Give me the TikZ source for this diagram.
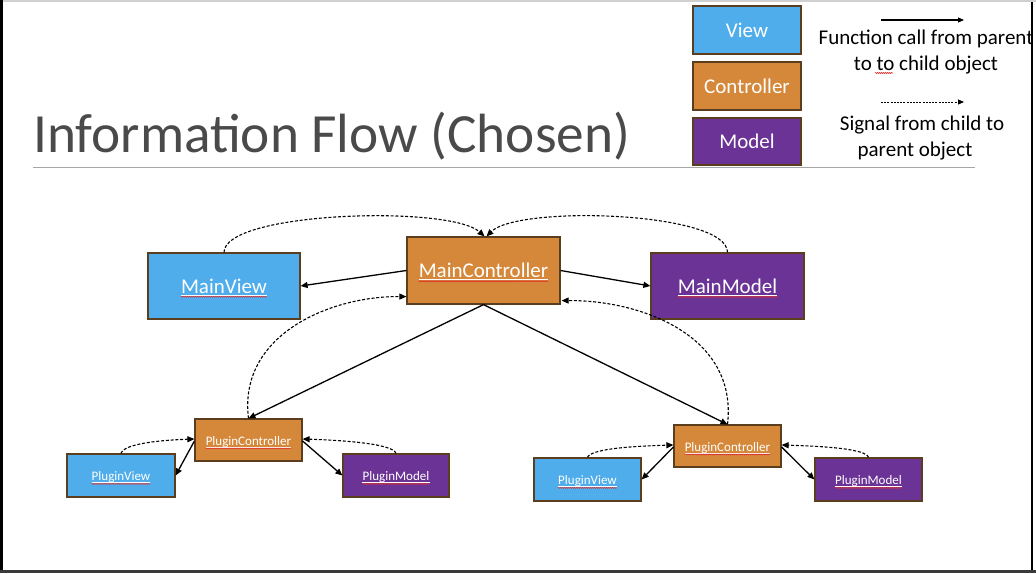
\documentclass[tikz,border=0pt]{standalone}
\usepackage{fontspec}
\setmainfont{Carlito}
\usetikzlibrary{arrows.meta,decorations.pathmorphing}
\definecolor{cview}{HTML}{4EADEA}
\definecolor{cctrl}{HTML}{D6883A}
\definecolor{cmodel}{HTML}{6A3395}
\definecolor{cedge}{HTML}{5A3E1E}
\definecolor{ctitle}{HTML}{4A4A4A}
\definecolor{crule}{HTML}{A6A6A6}
\definecolor{cwave}{HTML}{E03030}
\definecolor{ctop}{HTML}{D0D0D0}
\definecolor{cbot}{HTML}{3A3A3A}
\begin{document}
\begin{tikzpicture}[x=1pt,y=-1pt,
  box/.style={draw=cedge,line width=1.2pt,inner sep=0pt},
  vbox/.style={box,fill=cview},
  cbox/.style={box,fill=cctrl},
  mbox/.style={box,fill=cmodel},
  lbl/.style={anchor=base,inner sep=0pt,text=white},
  bigtxt/.style={font=\fontsize{21}{25}\selectfont},
  smalltxt/.style={font=\fontsize{13}{15}\selectfont},
  legtxt/.style={font=\fontsize{21}{25}\selectfont,anchor=base,inner sep=0pt},
  uline/.style={draw=white,line width=0.6pt},
  wave/.style={draw=cwave,line width=0.55pt,decorate,decoration={snake,amplitude=0.5pt,segment length=2pt}},
  fn/.style={draw=black,line width=1.3pt,-{Triangle[length=7pt,width=6pt]}},
  sig/.style={draw=black,line width=1.1pt,dash pattern=on 3pt off 1.8pt,-{Triangle[length=7pt,width=6pt]}},
  legfn/.style={draw=black,line width=1.1pt,-{Triangle[length=6pt,width=5pt]}},
  legsig/.style={draw=black,line width=1pt,dash pattern=on 2pt off 1.2pt,-{Triangle[length=6pt,width=5pt]}}
]
\useasboundingbox (0,0) rectangle (1036,573);
\fill[white] (0,0) rectangle (1036,573);
\begin{scope}
\clip (3,2) rectangle (1031,570);
% title
\node[anchor=base west,inner sep=0pt,text=ctitle] (title) at (33,152)
  {\resizebox{597pt}{!}{\fontsize{58}{64}\selectfont Information Flow (Chosen)}};
\draw[crule,line width=1pt] (33,167) -- (975,167);
% legend
\node[vbox,minimum width=108pt,minimum height=48pt] (lv) at (747,30) {};
\node[cbox,minimum width=108pt,minimum height=48pt] (lc) at (747,86) {};
\node[mbox,minimum width=108pt,minimum height=47pt] (lm) at (747,141.5) {};
\node[lbl,bigtxt] (lvt) at ([yshift=-7pt]lv.center) {View};
\node[lbl,bigtxt] (lct) at ([yshift=-7pt]lc.center) {Controller};
\node[lbl,bigtxt] (lmt) at ([yshift=-7pt]lm.center) {Model};
\coordinate (la1) at (881,20);
\coordinate (lb1) at (964,20);
\coordinate (la2) at (881,102);
\coordinate (lb2) at (964,102);
\draw[legfn] (la1) -- (lb1);
\draw[legsig] (la2) -- (lb2);
\node[legtxt] (t1) at (926,44) {Function call from parent};
\node[legtxt] (t2) at (926,70) {to to child object};
\coordinate (sqa) at (875,73);
\coordinate (sqb) at (893,73);
\draw[wave] (sqa) -- (sqb);
\node[legtxt] (t3) at (922,130) {Signal from child to};
\node[legtxt] (t4) at (915,156) {parent object};
% main nodes
\node[vbox,minimum width=152pt,minimum height=66pt] (mv) at (224,286) {};
\node[cbox,minimum width=153pt,minimum height=67pt] (mc) at (483.5,270.5) {};
\node[mbox,minimum width=153pt,minimum height=66pt] (mm) at (727.5,286) {};
\node[lbl,bigtxt] (mvt) at ([yshift=-7pt]mv.center) {MainView};
\node[lbl,bigtxt] (mct) at ([yshift=-7pt]mc.center) {MainController};
\node[lbl,bigtxt] (mmt) at ([yshift=-7pt]mm.center) {MainModel};
% left plugin group
\node[cbox,minimum width=107pt,minimum height=42pt] (lpc) at (248.5,440) {};
\node[vbox,minimum width=108pt,minimum height=43pt] (lpv) at (121,475.5) {};
\node[mbox,minimum width=106pt,minimum height=43pt] (lpm) at (396,475.5) {};
% right plugin group
\node[cbox,minimum width=107pt,minimum height=42pt] (rpc) at (727.5,446) {};
\node[vbox,minimum width=107pt,minimum height=43pt] (rpv) at (587.5,479.5) {};
\node[mbox,minimum width=107pt,minimum height=43pt] (rpm) at (868.5,479.5) {};
\node[lbl,smalltxt] (lpct) at ([yshift=-5pt]lpc.center) {PluginController};
\node[lbl,smalltxt] (lpvt) at ([yshift=-5pt]lpv.center) {PluginView};
\node[lbl,smalltxt] (lpmt) at ([yshift=-5pt]lpm.center) {PluginModel};
\node[lbl,smalltxt] (rpct) at ([yshift=-5pt]rpc.center) {PluginController};
\node[lbl,smalltxt] (rpvt) at ([yshift=-5pt]rpv.center) {PluginView};
\node[lbl,smalltxt] (rpmt) at ([yshift=-5pt]rpm.center) {PluginModel};
% underlines and spell-check waves
\foreach \t/\d in {mvt/2.2,mct/2.2,mmt/2.2,lpct/1.8,lpvt/1.8,lpmt/1.8,rpct/1.8,rpvt/1.8,rpmt/1.8}{
  \draw[uline] ([yshift=-\d pt]\t.base west) -- ([yshift=-\d pt]\t.base east);
  \draw[wave] ([yshift=-\d pt-1.6pt]\t.base west) -- ([yshift=-\d pt-1.6pt]\t.base east);
}
% function calls
\draw[fn] (mc.west) -- (mv.east);
\draw[fn] (mc.east) -- (mm.west);
\draw[fn] (mc.south) -- (lpc.north);
\draw[fn] (mc.south) -- (rpc.north);
\draw[fn] ([yshift=-1pt]lpc.west) -- (lpv.east);
\draw[fn] ([yshift=-1pt]lpc.east) -- (lpm.west);
\draw[fn] ([yshift=-1pt]rpc.west) -- (rpv.east);
\draw[fn] ([yshift=-1pt]rpc.east) -- (rpm.west);
% signals
\draw[sig] (mv.north) .. controls ([yshift=41pt]mv.north) and (450,205) .. ([xshift=1pt]mc.north);
\draw[sig] (mm.north) .. controls ([yshift=41pt]mm.north) and (518,205) .. ([xshift=3pt]mc.north);
\draw[sig] (lpc.north) .. controls (238,335) and (330,296) .. ([yshift=8pt]mc.south west);
\draw[sig] (rpc.north) .. controls (738,335) and (640,300) .. ([yshift=4pt,xshift=1pt]mc.south east);
\draw[sig] (lpv.north) .. controls (124,443) and (165,440) .. ([yshift=1pt]lpc.west);
\draw[sig] (lpm.north) .. controls (393,443) and (335,440) .. ([yshift=1pt]lpc.east);
\draw[sig] (rpv.north) .. controls (591,448) and (640,446) .. ([yshift=1pt]rpc.west);
\draw[sig] (rpm.north) .. controls (866,448) and (815,446) .. ([yshift=1pt]rpc.east);
\end{scope}
% screen frame
\fill[black] (0,0) rectangle (3,573);
\fill[black] (1031,0) rectangle (1033,570);
\fill[ctop] (3,0) rectangle (1036,1.5);
\fill[cbot] (0,570) rectangle (1036,573);
\end{tikzpicture}
\end{document}
